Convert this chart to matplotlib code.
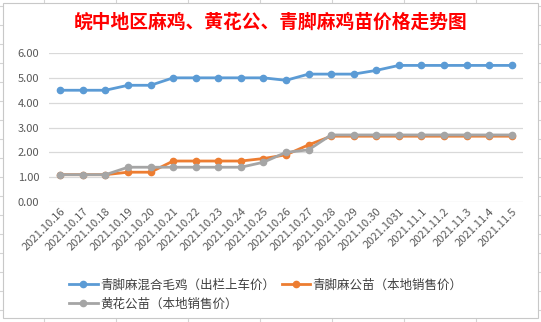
import matplotlib.pyplot as plt
from matplotlib.lines import Line2D
from matplotlib.patches import Rectangle

plt.rcParams['font.family'] = ['Noto Sans CJK SC', 'DejaVu Sans']

# DATA
dates = ["2021.10.16", "2021.10.17", "2021.10.18", "2021.10.19", "2021.10.20",
         "2021.10.21", "2021.10.22", "2021.10.23", "2021.10.24", "2021.10.25",
         "2021.10.26", "2021.10.27", "2021.10.28", "2021.10.29", "2021.10.30",
         "2021.1031", "2021.11.1", "2021.11.2", "2021.11.3", "2021.11.4", "2021.11.5"]
mixed_chicken = [4.5, 4.5, 4.5, 4.7, 4.7, 5.0, 5.0, 5.0, 5.0, 5.0, 4.9,
                 5.15, 5.15, 5.15, 5.3, 5.5, 5.5, 5.5, 5.5, 5.5, 5.5]
qingjiao_chick = [1.1, 1.1, 1.1, 1.2, 1.2, 1.65, 1.65, 1.65, 1.65, 1.75, 1.9,
                  2.3, 2.65, 2.65, 2.65, 2.65, 2.65, 2.65, 2.65, 2.65, 2.65]
huanghua_chick = [1.1, 1.1, 1.1, 1.4, 1.4, 1.4, 1.4, 1.4, 1.4, 1.6, 2.0,
                  2.1, 2.7, 2.7, 2.7, 2.7, 2.7, 2.7, 2.7, 2.7, 2.7]
series_names = ["青脚麻混合毛鸡（出栏上车价）", "青脚麻公苗（本地销售价）", "黄花公苗（本地销售价）"]
title = "皖中地区麻鸡、黄花公、青脚麻鸡苗价格走势图"

W, H = 541, 322
fig = plt.figure(figsize=(W / 100, H / 100), dpi=100)

def fx(px):
    return px / W

def fy(py):
    return 1 - py / H

# spreadsheet cell lines behind the chart
grid_c = "#d4d4d4"
for xx in range(44, W, 72):
    fig.add_artist(Line2D([fx(xx), fx(xx)], [0, 1], color=grid_c, lw=0.8, zorder=-3))
for yy in range(6, H, 19):
    fig.add_artist(Line2D([0, 1], [fy(yy), fy(yy)], color=grid_c, lw=0.8, zorder=-3))
fig.add_artist(Rectangle((fx(3), fy(318)), fx(535), 315 / H, transform=fig.transFigure,
                         facecolor="white", edgecolor="#c8c8c8", lw=0.8, zorder=-2))

ax = fig.add_axes([fx(49), fy(202), fx(523 - 49), (202 - 53) / H])
ax.set_facecolor("none")

x = list(range(len(dates)))
colors = ["#5B9BD5", "#ED7D31", "#A5A5A5"]
lines = []
for vals, c, name in zip([mixed_chicken, qingjiao_chick, huanghua_chick], colors, series_names):
    ln, = ax.plot(x, vals, color=c, lw=2, marker="o", markersize=4.5, label=name)
    lines.append(ln)

ax.set_ylim(0, 6)
ax.set_xlim(-0.5, len(dates) - 0.5)
ax.set_yticks([0, 1, 2, 3, 4, 5, 6])
ax.set_yticklabels([f"{v:.2f}" for v in range(7)])
ax.set_xticks(x)
ax.set_xticklabels(dates, rotation=45, ha="right", rotation_mode="anchor")
ax.grid(axis="y", color="#d9d9d9", lw=0.9)
ax.set_axisbelow(True)
for s in ax.spines.values():
    s.set_visible(False)
ax.tick_params(axis="both", length=0, colors="#595959")
ax.tick_params(axis="y", labelsize=8, pad=7)
ax.tick_params(axis="x", labelsize=8, pad=3)

fig.text(0.5, fy(22), title, color="#FF0000", fontsize=13.5, fontweight="bold",
         ha="center", va="center")

# row-wise order: blue, orange on first row, gray on second
order = [0, 2, 1]
fig.legend([lines[i] for i in order], [series_names[i] for i in order],
           loc="center left", bbox_to_anchor=(fx(69), fy(294.5)), ncol=2, frameon=False,
           fontsize=9, handlelength=2.3, handletextpad=0.2, columnspacing=0.5,
           labelspacing=0.5, borderpad=0, borderaxespad=0, labelcolor="#404040")

fig.savefig("out.png", dpi=100)
